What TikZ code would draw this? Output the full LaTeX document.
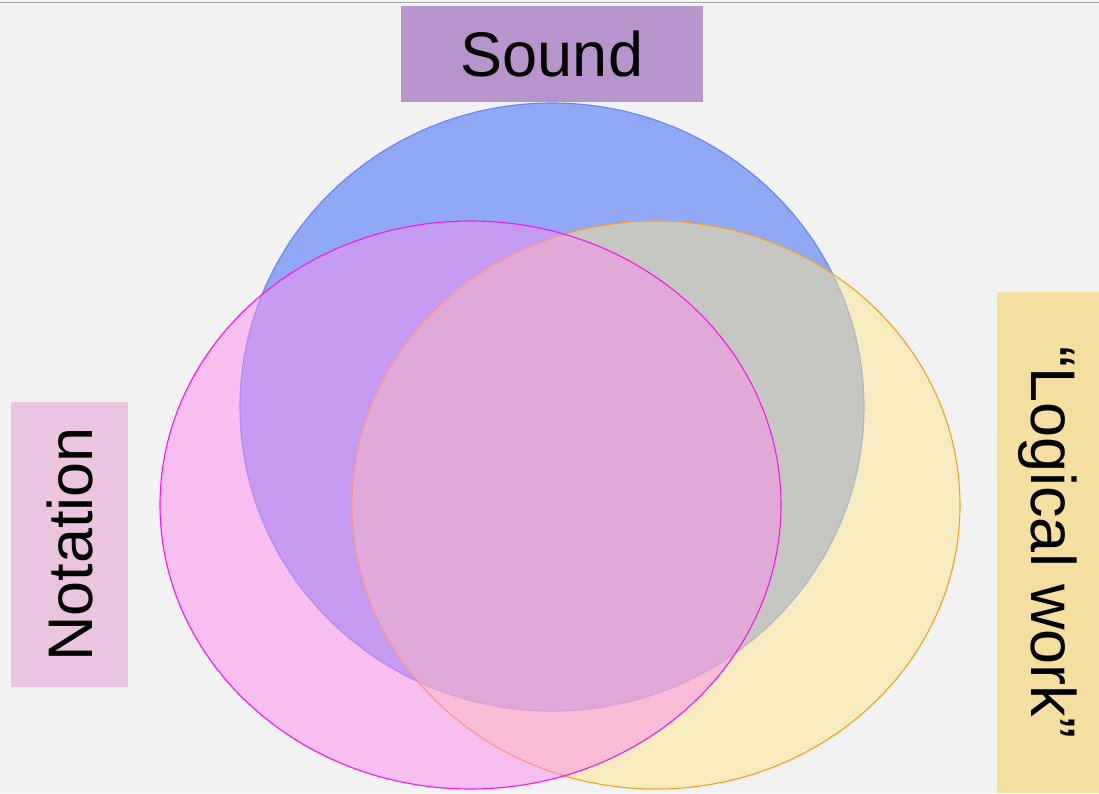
\documentclass[tikz,border=0pt]{standalone}
\usepackage{fontspec}
\setmainfont{Liberation Sans}
\definecolor{bg}{RGB}{242,242,242}
\definecolor{topline}{RGB}{166,166,166}
\definecolor{blueFill}{RGB}{48,98,252}
\definecolor{blueLine}{RGB}{100,132,245}
\definecolor{yellowFill}{RGB}{252,230,142}
\definecolor{yellowLine}{RGB}{245,160,35}
\definecolor{pinkFill}{RGB}{250,142,238}
\definecolor{pinkLine}{RGB}{250,20,240}
\definecolor{soundBox}{RGB}{184,148,204}
\definecolor{notationBox}{RGB}{235,197,224}
\definecolor{logicBox}{RGB}{245,223,160}
\tikzset{
  setshape/.style={fill opacity=0.5, line width=1.1pt},
  labelbox/.style={rectangle, inner sep=0pt, font=\fontsize{63}{75}\selectfont, text=black},
}
\begin{document}
\begin{tikzpicture}[x=1pt,y=-1pt]
\useasboundingbox (0,0) rectangle (1099,793);
\fill[bg] (0,0) rectangle (1099,793);
\draw[topline, line width=1.5pt] (0,2.5) -- (1099,2.5);
% ellipses: blue, yellow, pink (drawn in that order)
\path[setshape, fill=blueFill, draw=blueLine] (552,407) ellipse [x radius=312, y radius=304];
\path[setshape, fill=yellowFill, draw=yellowLine] (656,505) ellipse [x radius=304, y radius=284];
\path[setshape, fill=pinkFill, draw=pinkLine] (470.5,505) ellipse [x radius=310.5, y radius=284];
% labels
\node[labelbox, fill=soundBox, minimum width=302pt, minimum height=96pt] (sound) at (552,54) {Sound};
\node[labelbox, fill=notationBox, rotate=90, minimum width=285pt, minimum height=117pt] (notation) at (69.5,544.5) {Notation};
\node[labelbox, fill=logicBox, rotate=-90, minimum width=501pt, minimum height=102pt] (logical) at (1048,542.5) {“Logical work”};
\end{tikzpicture}
\end{document}
